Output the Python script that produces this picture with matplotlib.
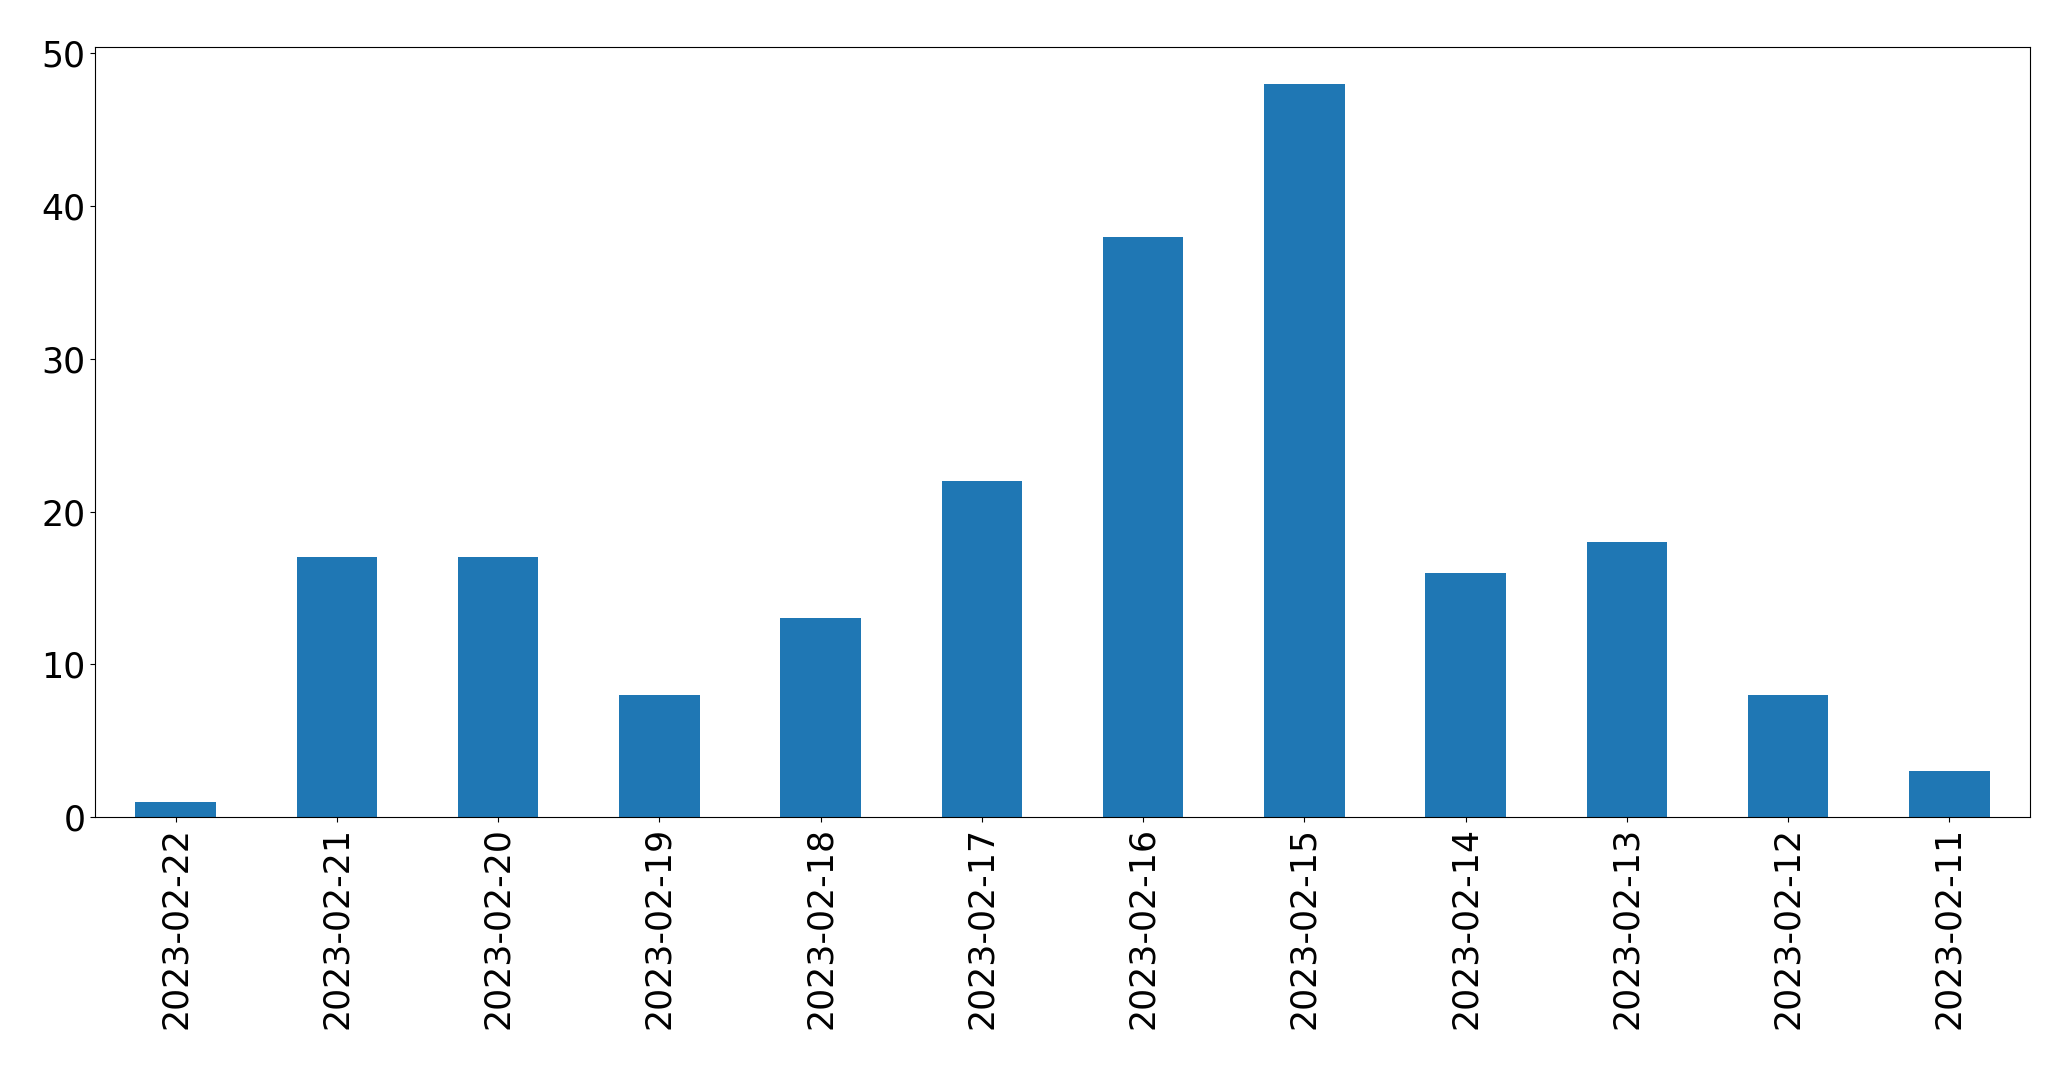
import matplotlib
matplotlib.use("Agg")
import matplotlib.pyplot as plt
import numpy as np

dates = ["2023-02-22", "2023-02-21", "2023-02-20", "2023-02-19", "2023-02-18", "2023-02-17",
         "2023-02-16", "2023-02-15", "2023-02-14", "2023-02-13", "2023-02-12", "2023-02-11"]
counts = [1, 17, 17, 8, 13, 22, 38, 48, 16, 18, 8, 3]

fig = plt.figure(figsize=(20.71, 10.69), dpi=100)
ax = fig.add_axes([95/2071, 1 - 817/1069, (2030-95)/2071, (817-47.3)/1069])
x = np.arange(len(dates))
ax.bar(x, counts, width=0.5, color="#1f77b4")
ax.set_xlim(-0.5, len(dates) - 0.5)
ax.set_ylim(0, max(counts) * 1.05)
ax.set_xticks(x)
ax.set_xticklabels(dates, rotation=90)
ax.tick_params(axis="both", labelsize=25)
fig.savefig("out.png", dpi=100)
